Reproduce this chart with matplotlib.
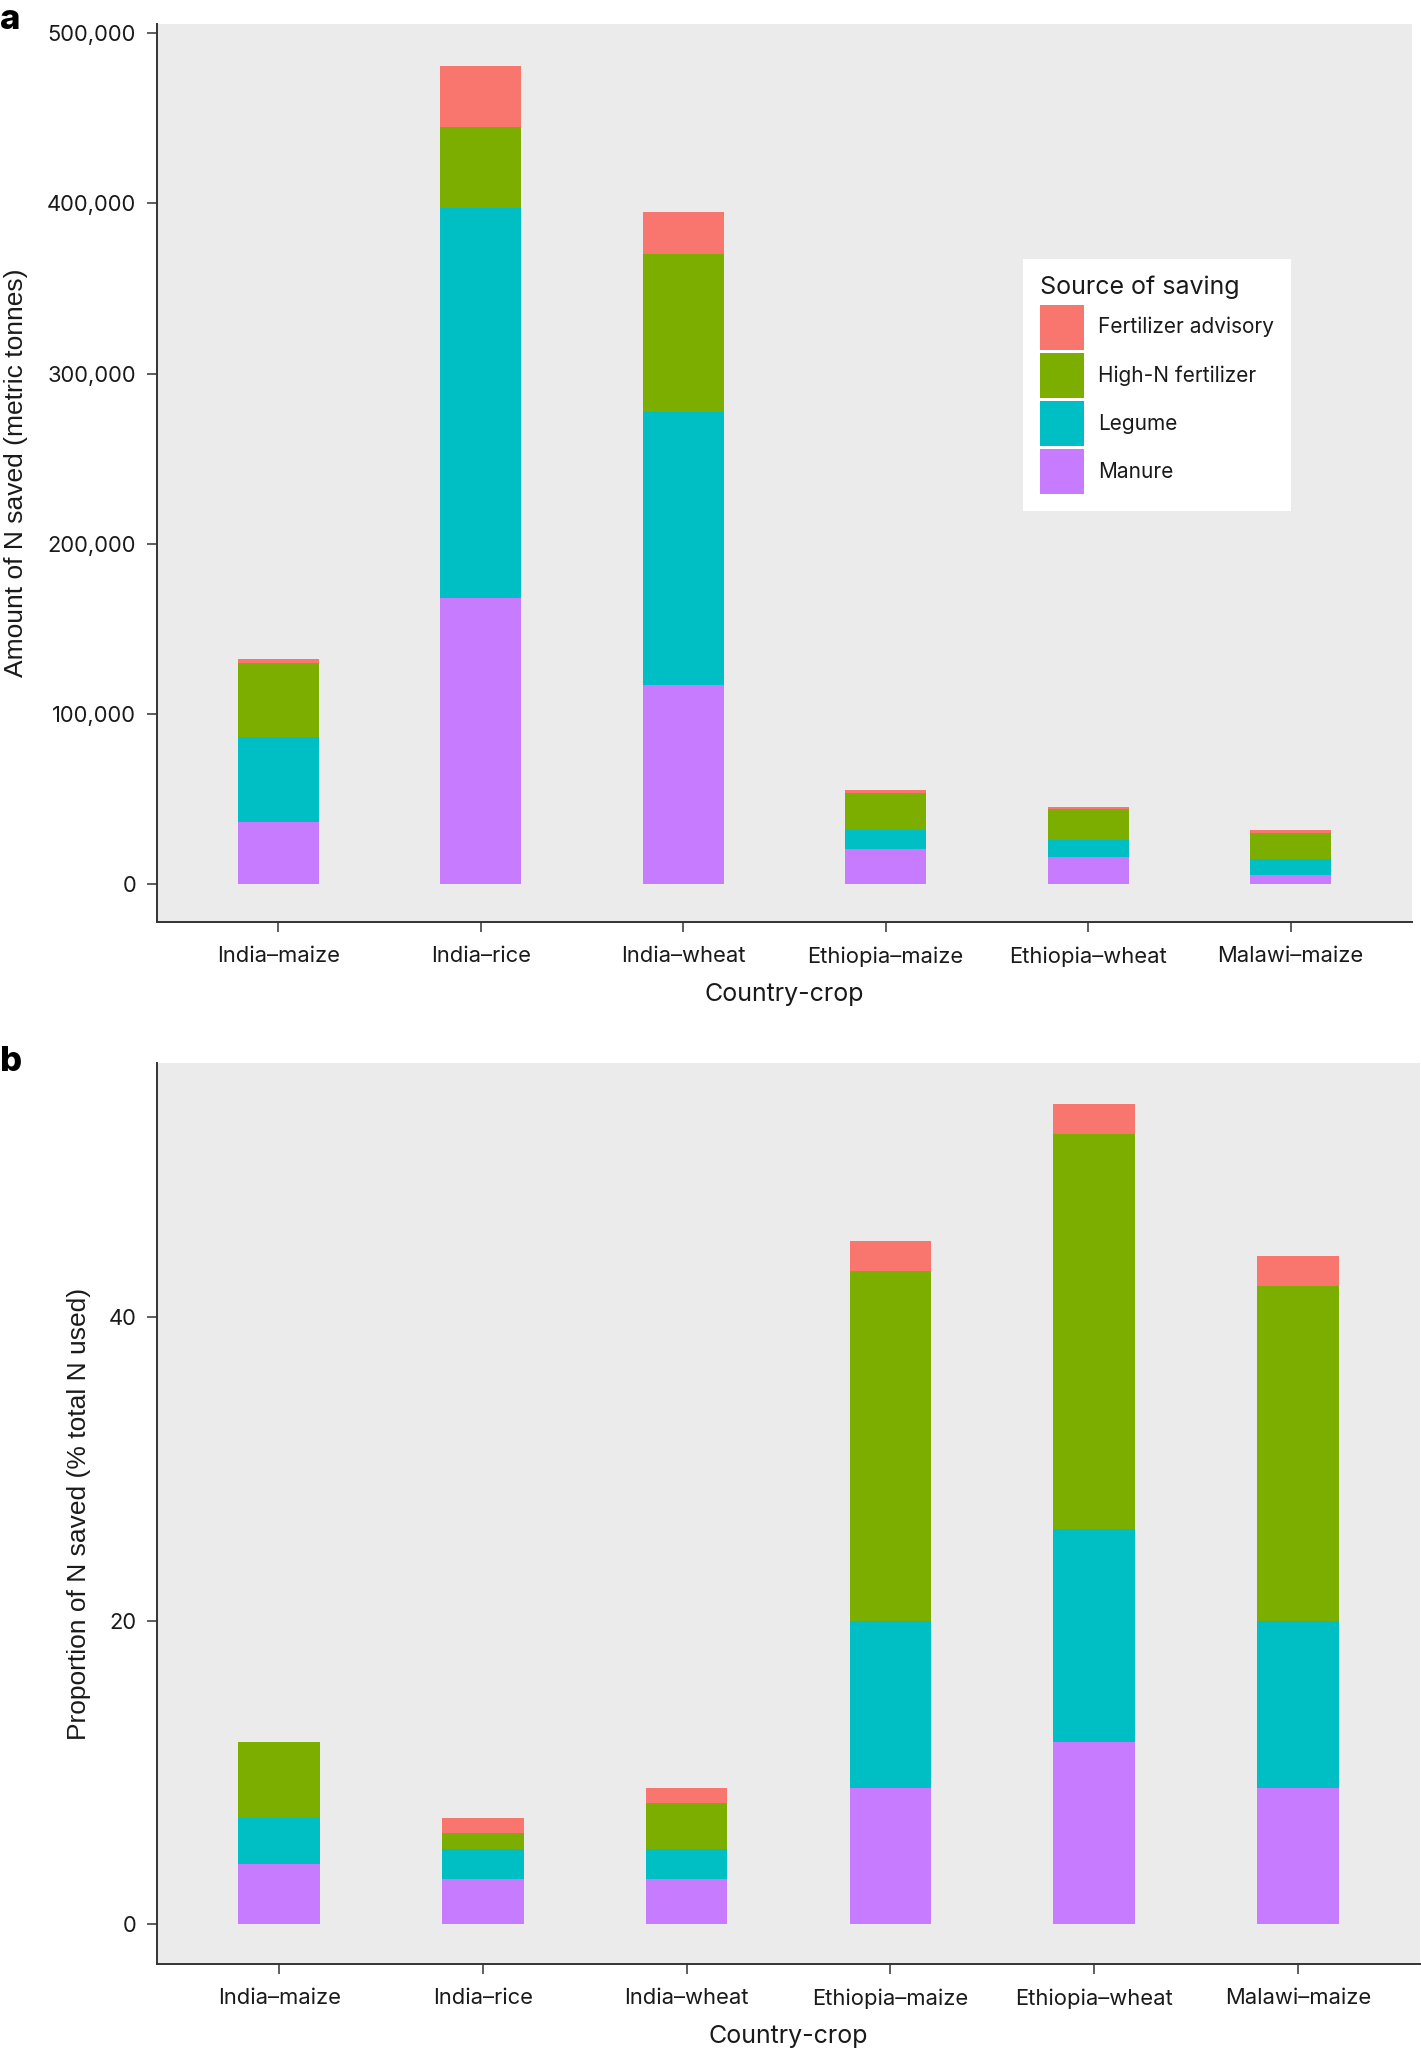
import matplotlib
matplotlib.use("Agg")
import matplotlib.pyplot as plt
from matplotlib.patches import Patch
import numpy as np

# ---------------- data ----------------
categories = ["India\u2013maize", "India\u2013rice", "India\u2013wheat",
              "Ethiopia\u2013maize", "Ethiopia\u2013wheat", "Malawi\u2013maize"]
sources = ["Fertilizer advisory", "High-N fertilizer", "Legume", "Manure"]
colors = {"Fertilizer advisory": "#F8766D", "High-N fertilizer": "#7CAE00",
          "Legume": "#00BFC4", "Manure": "#C77CFF"}

# panel a: amount of N saved (metric tonnes)
amount_manure = [36300, 168200, 116600, 20300, 16000, 5400]
amount_legume = [49700, 229400, 160900, 11400, 9600, 9100]
amount_highn = [44000, 47400, 92500, 21800, 18400, 15300]
amount_fert = [1900, 36000, 25000, 1900, 1100, 1500]

# panel b: proportion of N saved (% total N used)
prop_manure = [4, 3, 3, 9, 12, 9]
prop_legume = [3, 2, 2, 11, 14, 11]
prop_highn = [5, 1, 3, 23, 26, 22]
prop_fert = [0, 1, 1, 2, 2, 2]

amount_ticks = [0, 100000, 200000, 300000, 400000, 500000]
amount_ticklabels = ["0", "100,000", "200,000", "300,000", "400,000", "500,000"]
prop_ticks = [0, 20, 40]
prop_ticklabels = ["0", "20", "40"]

# ---------------- style ----------------
W, H = 1421, 2048
fig = plt.figure(figsize=(W / 100, H / 100), dpi=100)
fig.patch.set_facecolor("white")

main_font = ["Inter", "DejaVu Sans"]
narrow_font = ["Liberation Sans Narrow", "Liberation Sans", "DejaVu Sans"]
txt_col = "#1a1a1a"
spine_col = "#333333"


def fx(px):
    return px / W


def fy(py):
    return 1 - py / H


def make_axes(left, right, top, bottom):
    return fig.add_axes([fx(left), fy(bottom), fx(right) - fx(left), fy(top) - fy(bottom)])


def stacked(ax, series):
    x = np.arange(len(categories))
    bottom = np.zeros(len(categories))
    for name, vals in series:
        ax.bar(x, vals, width=0.4, bottom=bottom, color=colors[name],
               edgecolor="none", linewidth=0, zorder=2)
        bottom = bottom + np.array(vals, dtype=float)


def style(ax, ylabel, ticks, ticklabels, ylim, xlim, ylab_x):
    ax.set_facecolor("#EBEBEB")
    for s in ["top", "right"]:
        ax.spines[s].set_visible(False)
    for s in ["left", "bottom"]:
        ax.spines[s].set_color(spine_col)
        ax.spines[s].set_linewidth(1.4)
    ax.set_xlim(*xlim)
    ax.set_ylim(*ylim)
    ax.set_xticks(np.arange(len(categories)))
    ax.set_xticklabels(categories, fontsize=15.8, family=main_font, color=txt_col)
    ax.set_yticks(ticks)
    ax.set_yticklabels(ticklabels, fontsize=15.8, family=main_font, color=txt_col)
    ax.tick_params(axis="both", direction="out", length=7.5, width=1.1,
                   color=spine_col, pad=7.5)
    ax.tick_params(axis="x", pad=10)
    ax.set_xlabel("Country-crop", fontsize=18, family=main_font, color=txt_col, labelpad=11.5)
    ax.set_ylabel(ylabel, fontsize=19, family=narrow_font, color=txt_col)
    ax.yaxis.label.set_va("center")
    ax.yaxis.set_label_coords(ylab_x, 0.5)


# ---------------- panel a ----------------
ax1 = make_axes(157, 1412, 24, 922)
stacked(ax1, [("Manure", amount_manure), ("Legume", amount_legume),
              ("High-N fertilizer", amount_highn), ("Fertilizer advisory", amount_fert)])
style(ax1, "Amount of N saved (metric tonnes)", amount_ticks, amount_ticklabels,
      (-22500, 505500), (-0.6, 5.6), (16 - 157) / (1412 - 157))

handles = [Patch(facecolor=colors[s], edgecolor="none", label=s) for s in sources]
leg = ax1.legend(handles=handles, title="Source of saving", loc="upper left",
                 bbox_to_anchor=(fx(1023), fy(259)), bbox_transform=fig.transFigure,
                 frameon=True, fancybox=False, facecolor="white", edgecolor="none",
                 framealpha=1, prop={"family": main_font, "size": 15},
                 title_fontproperties={"family": main_font, "size": 18},
                 handlelength=2.15, handleheight=2.95, labelspacing=0.15,
                 handletextpad=0.65, borderpad=0.8, borderaxespad=0,
                 alignment="left")
leg._legend_box.sep = 4
for t in leg.get_texts():
    t.set_color(txt_col)
leg.get_title().set_color(txt_col)

# ---------------- panel b ----------------
ax2 = make_axes(157, 1420, 1063, 1964)
stacked(ax2, [("Manure", prop_manure), ("Legume", prop_legume),
              ("High-N fertilizer", prop_highn), ("Fertilizer advisory", prop_fert)])
style(ax2, "Proportion of N saved (% total N used)", prop_ticks, prop_ticklabels,
      (-2.6, 56.7), (-0.6, 5.6), (79 - 157) / (1420 - 157))

# panel letters
fig.text(fx(0), fy(20), "a", fontsize=25, fontweight="heavy", family=main_font,
         va="center", ha="left", color="black")
fig.text(fx(0), fy(1062), "b", fontsize=25, fontweight="heavy", family=main_font,
         va="center", ha="left", color="black")

fig.savefig("out.png", dpi=100, facecolor="white")
